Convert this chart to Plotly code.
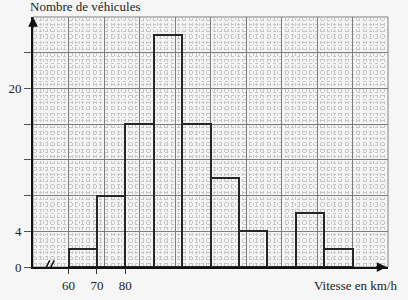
import plotly.graph_objects as go

# Data
bin_left = [60, 70, 80, 90, 100, 110, 120, 130, 140, 150]
bin_width = 10
counts = [2, 8, 16, 26, 16, 10, 4, 0, 6, 2]
x_tick_vals = [60, 70, 80]
x_tick_text = ["60", "70", "80"]
y_tick_vals = [0, 4, 8, 12, 16, 20, 24]
y_tick_text = ["0", "4", "", "", "", "20", ""]

mids = [b + bin_width / 2 for b in bin_left]

X0, X1 = 47.5, 172.5
Y0, Y1 = 0, 28
FONT = "Liberation Serif"
INK = "#222222"

fig = go.Figure()
fig.add_trace(go.Bar(
    x=mids, y=counts, width=bin_width,
    marker=dict(color="rgba(0,0,0,0)", line=dict(color="#262626", width=2)),
    hoverinfo="skip", showlegend=False,
))
# helper invisible trace for the label axis
fig.add_trace(go.Scatter(x=[60], y=[0], xaxis="x2", yaxis="y", mode="markers",
                         marker=dict(opacity=0), hoverinfo="skip", showlegend=False))

fig.update_layout(
    width=408, height=300,
    margin=dict(l=33, r=20, t=17, b=33, autoexpand=False),
    paper_bgcolor="#f6f6f6",
    plot_bgcolor="#f4f4f4",
    font=dict(family=FONT, color=INK, size=13),
    bargap=0,
    xaxis=dict(
        range=[X0, X1], tick0=X0, dtick=12.5, automargin=False,
        showgrid=True, gridcolor="#7d7d7d", gridwidth=1,
        showticklabels=False, ticks="",
        showline=True, linecolor="#111111", linewidth=2,
        zeroline=False,
        minor=dict(tick0=X0, dtick=1.25, showgrid=True, gridcolor="#c6c6c6",
                   griddash="dot", gridwidth=1),
    ),
    xaxis2=dict(
        overlaying="x", anchor="y", side="bottom", automargin=False,
        range=[X0, X1], tickmode="array",
        tickvals=x_tick_vals, ticktext=x_tick_text,
        ticks="outside", ticklen=6, tickcolor="#333333", tickwidth=1,
        showgrid=False, showline=False, zeroline=False,
        tickfont=dict(family=FONT, size=13, color=INK),
    ),
    yaxis=dict(
        range=[Y0, Y1], tickmode="array", automargin=False,
        tickvals=y_tick_vals, ticktext=y_tick_text,
        ticks="outside", ticklen=7, tickcolor="#555555", tickwidth=1,
        showgrid=True, gridcolor="#7d7d7d", gridwidth=1,
        showline=True, linecolor="#111111", linewidth=2,
        zeroline=False,
        tickfont=dict(family=FONT, size=13, color=INK),
        minor=dict(tick0=0, dtick=0.4, showgrid=True, gridcolor="#c6c6c6",
                   griddash="dot", gridwidth=1),
    ),
    shapes=[
        dict(type="rect", xref="paper", yref="paper", x0=0, x1=1, y0=0, y1=1,
             line=dict(color="#7d7d7d", width=1), layer="below"),
        # axis break marks
        dict(type="line", xref="x", yref="y", x0=51.0, x1=53.4, y0=-0.75, y1=0.75,
             line=dict(color="#111111", width=1.5)),
        dict(type="line", xref="x", yref="y", x0=52.6, x1=55.0, y0=-0.75, y1=0.75,
             line=dict(color="#111111", width=1.5)),
    ],
    annotations=[
        dict(x=X0, y=Y1, xref="x", yref="y", ax=0, ay=12, text="",
             showarrow=True, arrowhead=2, arrowsize=1.3, arrowwidth=1.5, arrowcolor="#111111"),
        dict(x=X1 - 0.5, y=0, xref="x", yref="y", ax=-12, ay=0, text="",
             showarrow=True, arrowhead=2, arrowsize=1.3, arrowwidth=1.5, arrowcolor="#111111"),
        dict(x=-5 / 355, y=1.04, xref="paper", yref="paper", xanchor="left", yanchor="middle",
             text="Nombre de véhicules", showarrow=False,
             font=dict(family=FONT, size=13, color=INK)),
        dict(x=1.03, y=-0.072, xref="paper", yref="paper", xanchor="right", yanchor="middle",
             text="Vitesse en km/h", showarrow=False,
             font=dict(family=FONT, size=13, color=INK)),
    ],
)

fig.write_html("out.html")
